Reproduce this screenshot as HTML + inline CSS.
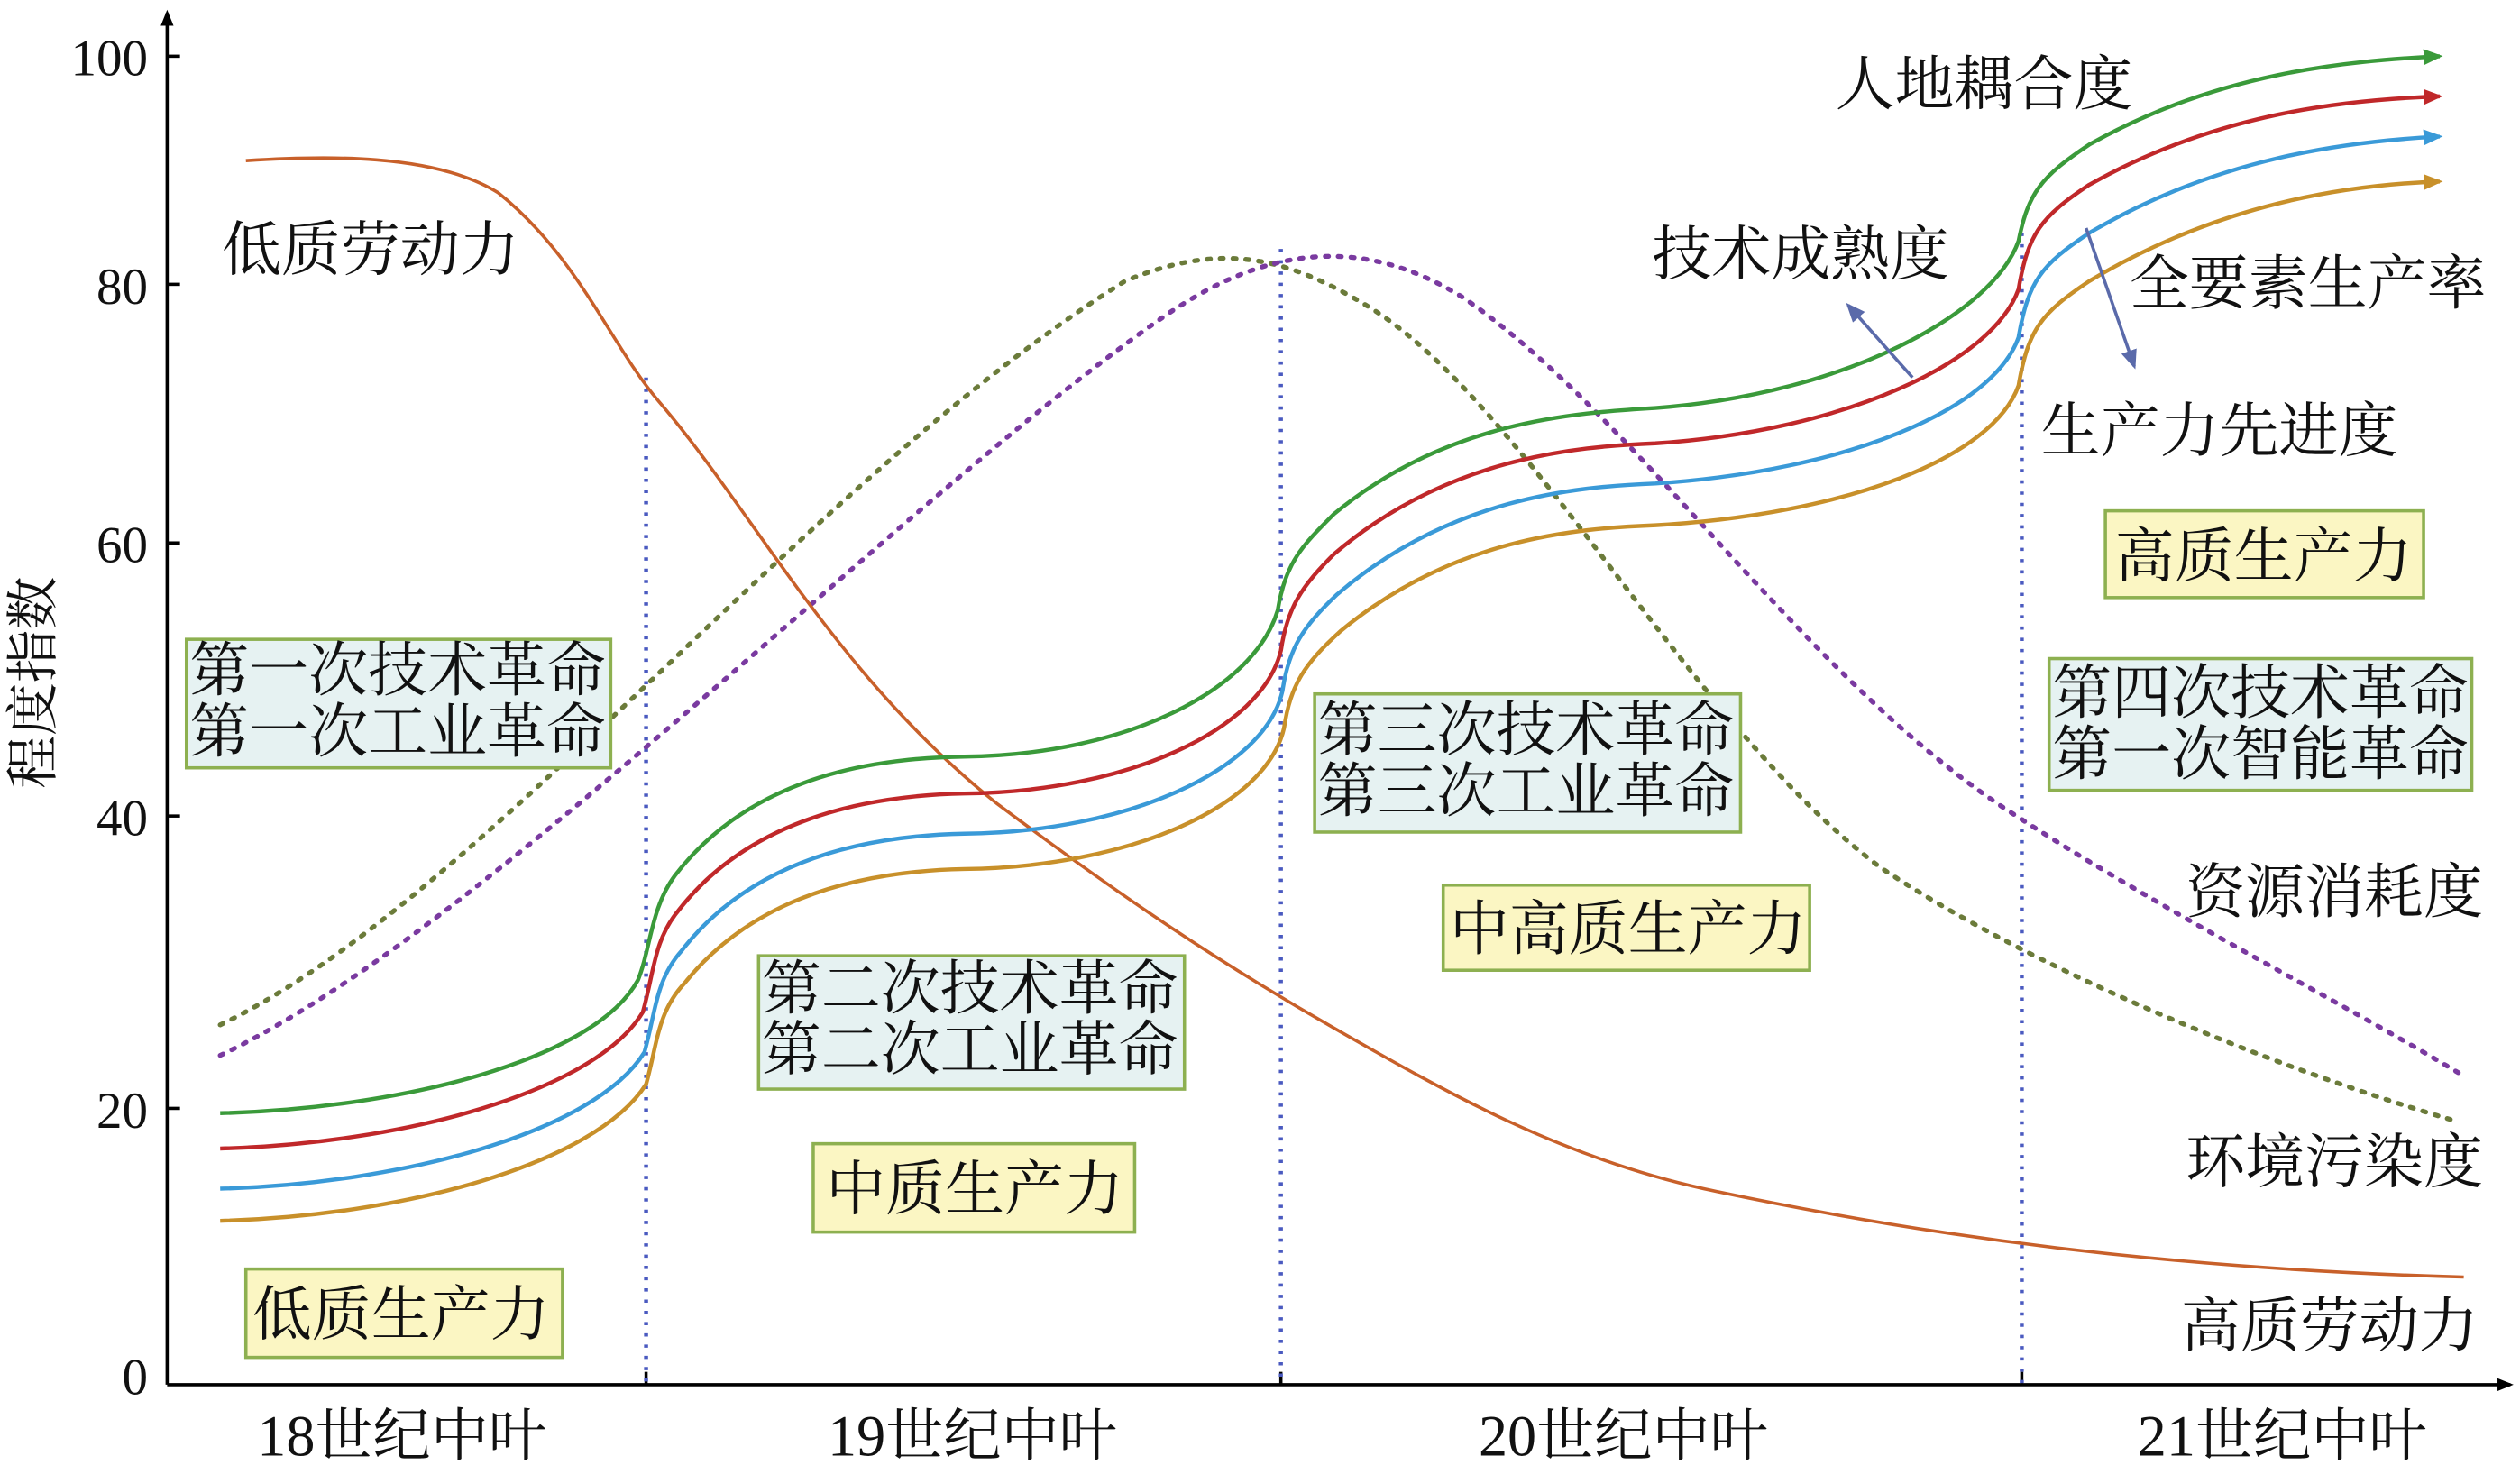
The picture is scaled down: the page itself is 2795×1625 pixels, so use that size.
<!DOCTYPE html>
<html><head><meta charset="utf-8"><style>
html,body{margin:0;padding:0;background:#fff;}
svg{display:block;}
text{font-family:"Liberation Serif","Noto Serif CJK SC",serif;fill:#111;}
</style></head><body>
<svg width="2795" height="1625" viewBox="0 0 1568 912" preserveAspectRatio="none" xmlns="http://www.w3.org/2000/svg">
<defs>
<marker id="ah" markerWidth="10" markerHeight="10" refX="8" refY="5" orient="auto" markerUnits="userSpaceOnUse"><path d="M0,1 L10,5 L0,9 z" fill="#000"/></marker>
<marker id="ag" markerWidth="12" markerHeight="10" refX="10" refY="5" orient="auto" markerUnits="userSpaceOnUse"><path d="M0,0 L12,5 L0,10 z" fill="#3a9a3a"/></marker>
<marker id="ar" markerWidth="12" markerHeight="10" refX="10" refY="5" orient="auto" markerUnits="userSpaceOnUse"><path d="M0,0 L12,5 L0,10 z" fill="#c0282a"/></marker>
<marker id="ab" markerWidth="12" markerHeight="10" refX="10" refY="5" orient="auto" markerUnits="userSpaceOnUse"><path d="M0,0 L12,5 L0,10 z" fill="#3a9ad8"/></marker>
<marker id="ao" markerWidth="12" markerHeight="10" refX="10" refY="5" orient="auto" markerUnits="userSpaceOnUse"><path d="M0,0 L12,5 L0,10 z" fill="#c8902a"/></marker>
<marker id="ap" markerWidth="12" markerHeight="10" refX="10" refY="5" orient="auto" markerUnits="userSpaceOnUse"><path d="M0,0 L12,5 L0,10 z" fill="#5a6aaa"/></marker>
</defs>
<line x1="104" y1="862" x2="104" y2="8" stroke="#000" stroke-width="2" marker-end="url(#ah)"/>
<line x1="104" y1="862" x2="1562" y2="862" stroke="#000" stroke-width="2" marker-end="url(#ah)"/>
<g stroke="#000" stroke-width="2">
<line x1="104" y1="35" x2="112" y2="35"/><line x1="104" y1="177" x2="112" y2="177"/><line x1="104" y1="338" x2="112" y2="338"/><line x1="104" y1="508" x2="112" y2="508"/><line x1="104" y1="690" x2="112" y2="690"/>
<line x1="402" y1="862" x2="402" y2="854"/><line x1="797" y1="862" x2="797" y2="854"/><line x1="1258" y1="862" x2="1258" y2="854"/>
</g>
<g font-size="32" text-anchor="end">
<text x="92" y="47">100</text><text x="92" y="189">80</text><text x="92" y="350">60</text><text x="92" y="520">40</text><text x="92" y="702">20</text><text x="92" y="868">0</text>
</g>
<text transform="translate(32,425) rotate(-90)" font-size="33" text-anchor="middle">程度指数</text>
<g font-size="36" text-anchor="middle">
<text x="250" y="906">18世纪中叶</text><text x="605" y="906">19世纪中叶</text><text x="1010" y="906">20世纪中叶</text><text x="1420" y="906">21世纪中叶</text>
</g>
<g stroke="#4a5ac0" stroke-width="2.5" stroke-dasharray="2,5">
<line x1="402" y1="235" x2="402" y2="862"/><line x1="797" y1="155" x2="797" y2="862"/><line x1="1258" y1="145" x2="1258" y2="862"/>
</g>
<path d="M137,638 C300,560 500,300 700,175 C760,150 800,160 850,190 C950,250 1050,450 1170,540 C1260,600 1400,660 1525,697" fill="none" stroke="#6b7b3a" stroke-width="3" stroke-dasharray="2,6" stroke-linecap="round"/>
<path d="M137,657 C300,580 550,320 720,200 C790,150 850,148 910,185 C1020,260 1120,420 1250,505 C1350,570 1450,620 1530,668" fill="none" stroke="#7a3aa0" stroke-width="3" stroke-dasharray="2,6" stroke-linecap="round"/>
<path d="M153,100 C200,97 270,95 310,120 C360,160 380,215 410,250 C470,320 520,420 620,500 C700,560 760,600 830,640 C900,680 970,720 1060,740 C1200,770 1350,790 1533,795" fill="none" stroke="#c8602a" stroke-width="2"/>
<path d="M137,693 C250,690 370,660 397,610 C405,590 405,565 420,545 C470,480 550,472 600,471 C700,470 780,430 795,380 C800,350 810,340 830,320 C900,262 980,257 1030,254 C1150,245 1240,195 1256,150 C1262,120 1270,110 1300,90 C1380,45 1460,38 1518,35" fill="none" stroke="#3a9a3a" stroke-width="2.5" marker-end="url(#ag)"/>
<path d="M137,715 C250,712 370,680 400,630 C407,605 407,585 422,567 C470,505 550,495 600,494 C700,493 785,455 797,405 C801,378 810,365 830,345 C900,285 980,278 1030,276 C1150,268 1240,225 1256,180 C1262,145 1270,135 1300,115 C1380,70 1460,62 1518,60" fill="none" stroke="#c0282a" stroke-width="2.5" marker-end="url(#ar)"/>
<path d="M137,740 C250,737 370,705 401,655 C408,630 408,610 424,592 C472,530 550,520 600,519 C700,518 787,480 798,430 C802,403 811,390 832,370 C902,310 980,303 1030,301 C1150,293 1240,255 1256,210 C1262,175 1270,165 1300,145 C1380,98 1460,88 1518,85" fill="none" stroke="#3a9ad8" stroke-width="2.5" marker-end="url(#ab)"/>
<path d="M137,760 C250,757 370,725 402,675 C409,650 409,630 426,612 C474,552 550,542 600,541 C700,540 788,503 799,453 C803,426 812,413 834,393 C904,335 980,329 1030,327 C1150,320 1240,285 1256,240 C1262,205 1270,195 1300,175 C1380,127 1460,115 1518,113" fill="none" stroke="#c8902a" stroke-width="2.5" marker-end="url(#ao)"/>
<line x1="1190" y1="235" x2="1150" y2="190" stroke="#5a6aaa" stroke-width="2" marker-end="url(#ap)"/>
<line x1="1298" y1="142" x2="1328" y2="228" stroke="#5a6aaa" stroke-width="2" marker-end="url(#ap)"/>
<g stroke="#8db050" stroke-width="2">
<rect x="116" y="398" width="264" height="80" fill="#e6f2f2"/>
<rect x="472" y="595" width="265" height="83" fill="#e6f2f2"/>
<rect x="818" y="432" width="265" height="86" fill="#e6f2f2"/>
<rect x="1275" y="410" width="263" height="82" fill="#e6f2f2"/>
<rect x="153" y="790" width="197" height="55" fill="#fbf6c3"/>
<rect x="506" y="712" width="200" height="55" fill="#fbf6c3"/>
<rect x="898" y="551" width="228" height="53" fill="#fbf6c3"/>
<rect x="1310" y="318" width="198" height="54" fill="#fbf6c3"/>
</g>
<g font-size="37">
<text x="118" y="430">第一次技术革命</text><text x="118" y="468">第一次工业革命</text>
<text x="474" y="628">第二次技术革命</text><text x="474" y="666">第二次工业革命</text>
<text x="820" y="467">第三次技术革命</text><text x="820" y="505">第三次工业革命</text>
<text x="1277" y="444">第四次技术革命</text><text x="1277" y="482">第一次智能革命</text>
<text x="157" y="831">低质生产力</text>
<text x="514" y="753">中质生产力</text>
<text x="902" y="591">中高质生产力</text>
<text x="1316" y="359">高质生产力</text>
<text x="138" y="168">低质劳动力</text>
<text x="1142" y="65">人地耦合度</text>
<text x="1028" y="171">技术成熟度</text>
<text x="1325" y="189">全要素生产率</text>
<text x="1270" y="281">生产力先进度</text>
<text x="1360" y="568">资源消耗度</text>
<text x="1360" y="736">环境污染度</text>
<text x="1357" y="838">高质劳动力</text>
</g>
</svg>
</body></html>
